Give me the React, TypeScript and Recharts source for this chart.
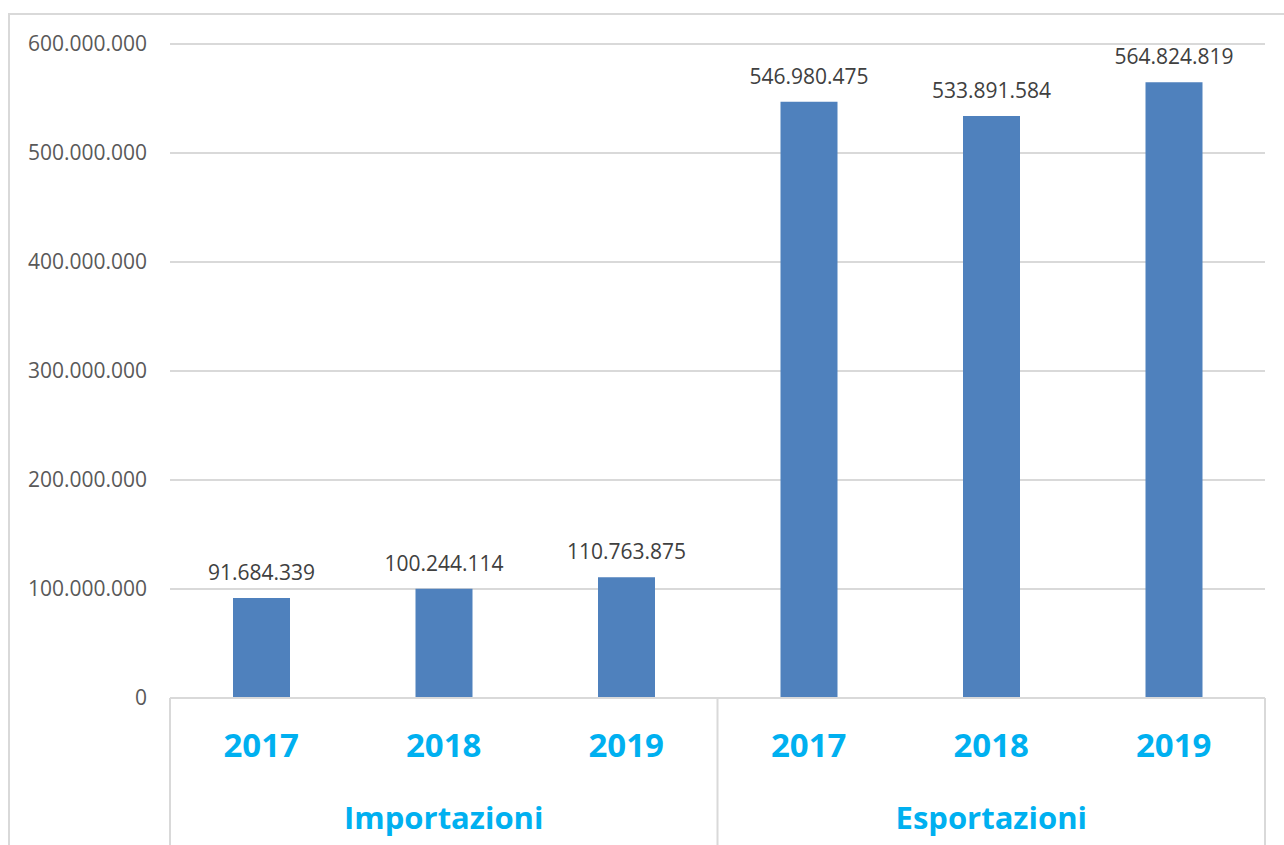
import React from "react";
import { Bar, BarChart, CartesianGrid, LabelList, XAxis, YAxis } from "recharts";

const years = ["2017", "2018", "2019", "2017", "2018", "2019"];
const groups = ["Importazioni", "Importazioni", "Importazioni", "Esportazioni", "Esportazioni", "Esportazioni"];
const values = [91684339, 100244114, 110763875, 546980475, 533891584, 564824819];
const yTicks = [0, 100000000, 200000000, 300000000, 400000000, 500000000, 600000000];

const data = years.map((year, i) => ({ key: `${groups[i]}-${year}`, year, group: groups[i], value: values[i] }));

const WIDTH = 1284;
const HEIGHT = 845;
const MARGIN = { top: 44, right: 19, bottom: 0, left: 0 };
const Y_AXIS_WIDTH = 170;
const PLOT_WIDTH = WIDTH - MARGIN.left - MARGIN.right - Y_AXIS_WIDTH;
const BAND = PLOT_WIDTH / data.length;

const GRID = "#d9d9d9";
const BLUE = "#00b0f0";
const FONT = "'Open Sans', 'Noto Sans', sans-serif";

const dots = (v: number) => String(Math.round(v)).replace(/\B(?=(\d{3})+(?!\d))/g, ".");

function CategoryTick(props: any) {
  const { x, y, index } = props;
  const group = groups[index];
  const first = index === 0 || groups[index - 1] !== group;
  const last = index === groups.length - 1;
  const count = groups.filter((g) => g === group).length;
  const left = x - BAND / 2;
  return (
    <g>
      <text x={x} y={y + 59} textAnchor="middle" fill={BLUE} fontFamily={FONT} fontWeight={700} fontSize={33}>
        {years[index]}
      </text>
      {first && (
        <>
          <line x1={left} x2={left} y1={y} y2={HEIGHT} stroke={GRID} strokeWidth={2} />
          <text
            x={left + (count * BAND) / 2}
            y={y + 131}
            textAnchor="middle"
            fill={BLUE}
            fontFamily={FONT}
            fontWeight={700}
            fontSize={31}
          >
            {group}
          </text>
        </>
      )}
      {last && <line x1={x + BAND / 2} x2={x + BAND / 2} y1={y} y2={HEIGHT} stroke={GRID} strokeWidth={2} />}
    </g>
  );
}

export default function App() {
  return (
    <div style={{ position: "absolute", left: 0, top: 0, width: WIDTH, height: HEIGHT, overflow: "hidden", background: "#fff" }}>
      <div
        style={{
          position: "absolute",
          left: 8,
          top: 13,
          width: WIDTH + 40,
          height: HEIGHT + 40,
          border: `2px solid ${GRID}`,
        }}
      />
      <div style={{ position: "absolute", left: 0, top: 0 }}>
        <BarChart width={WIDTH} height={HEIGHT} data={data} margin={MARGIN}>
          <CartesianGrid vertical={false} stroke={GRID} strokeWidth={2} />
          <YAxis
            width={Y_AXIS_WIDTH}
            domain={[0, 600000000]}
            ticks={yTicks}
            tickFormatter={dots}
            axisLine={false}
            tickLine={false}
            tickSize={0}
            tickMargin={23}
            tick={{ fill: "#595959", fontSize: 21, fontFamily: FONT }}
          />
          <XAxis
            dataKey="key"
            height={HEIGHT - 698}
            interval={0}
            axisLine={{ stroke: GRID, strokeWidth: 2 }}
            tickLine={false}
            tickSize={0}
            tickMargin={0}
            tick={<CategoryTick />}
          />
          <Bar dataKey="value" fill="#4f81bd" barSize={57} isAnimationActive={false}>
            <LabelList
              dataKey="value"
              position="top"
              offset={18}
              formatter={(v: any) => dots(Number(v))}
              fill="#404040"
              fontSize={21}
              fontFamily={FONT}
            />
          </Bar>
        </BarChart>
      </div>
    </div>
  );
}
